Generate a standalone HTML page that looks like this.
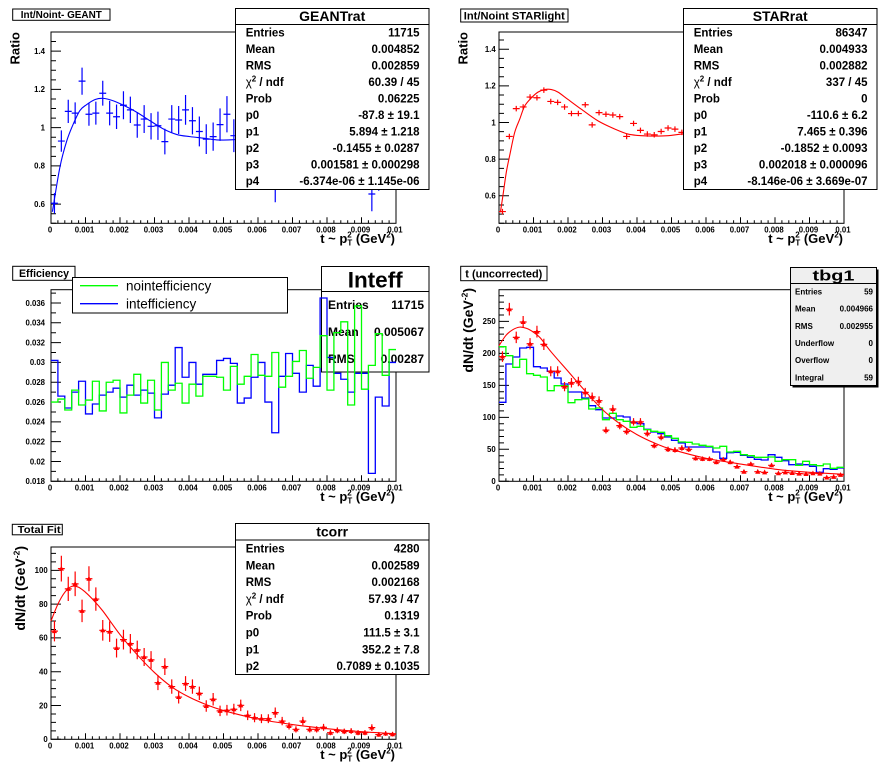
<!DOCTYPE html>
<html><head><meta charset="utf-8">
<style>
html,body{margin:0;padding:0;background:#fff;}
svg{display:block;}
text{font-family:"Liberation Sans",Arial,Helvetica,sans-serif;font-weight:bold;fill:#000;}
.t{font-size:7.8px;}
.n{font-weight:normal;}
</style></head><body>
<svg xmlns="http://www.w3.org/2000/svg" width="896" height="772" viewBox="0 0 896 772">
<rect width="896" height="772" fill="#fff"/>

<!-- ================= PAD 1 ================= -->
<rect x="12.7" y="9" width="97.3" height="11.3" fill="#fff" stroke="#000"/>
<text x="61.3" y="18.2" font-size="10" text-anchor="middle" textLength="81" lengthAdjust="spacingAndGlyphs">Int/Noint- GEANT</text>
<rect x="51" y="32" width="345" height="191.3" fill="none" stroke="#000"/>
<g id="a1"></g>
<g class="t" text-anchor="end">
<text x="45" y="207">0.6</text><text x="45" y="168.7">0.8</text><text x="45" y="130.5">1</text><text x="45" y="92.2">1.2</text><text x="45" y="53.9">1.4</text>
</g>
<g class="t" text-anchor="middle">
<text x="50" y="232.3">0</text><text x="84.5" y="232.3">0.001</text><text x="119" y="232.3">0.002</text><text x="153.5" y="232.3">0.003</text><text x="188" y="232.3">0.004</text><text x="222.5" y="232.3">0.005</text><text x="257" y="232.3">0.006</text><text x="291.5" y="232.3">0.007</text><text x="326" y="232.3">0.008</text><text x="360.5" y="232.3">0.009</text><text x="395" y="232.3">0.01</text>
</g>
<text x="395" y="242.8" text-anchor="end" font-size="13">t ~ p<tspan font-size="8" dy="-5.5">2</tspan><tspan font-size="8" dx="-4.4" dy="8">T</tspan><tspan dy="-2.5"> (GeV</tspan><tspan font-size="8" dy="-5.5">2</tspan><tspan dy="5.5">)</tspan></text>
<text transform="translate(19.3,32) rotate(-90)" text-anchor="end" font-size="13">Ratio</text>
<g id="d1"></g>
<rect x="235.5" y="8.5" width="193.5" height="181" fill="#fff" stroke="#000"/>
<line x1="235.5" y1="24.5" x2="429" y2="24.5" stroke="#000"/>
<text x="332.2" y="21.2" font-size="14" text-anchor="middle">GEANTrat</text>
<g font-size="11.5">
<text x="245.7" y="36.6">Entries</text><text x="419.5" y="36.6" text-anchor="end">11715</text>
<text x="245.7" y="53.1">Mean</text><text x="419.5" y="53.1" text-anchor="end">0.004852</text>
<text x="245.7" y="69.6">RMS</text><text x="419.5" y="69.6" text-anchor="end">0.002859</text>
<text x="245.7" y="86.1"><tspan class="n">χ</tspan><tspan font-size="8" dy="-4.5">2</tspan><tspan dy="4.5"> / ndf</tspan></text><text x="419.5" y="86.1" text-anchor="end">60.39 / 45</text>
<text x="245.7" y="102.6">Prob</text><text x="419.5" y="102.6" text-anchor="end">0.06225</text>
<text x="245.7" y="119.1">p0</text><text x="419.5" y="119.1" text-anchor="end">-87.8 ± 19.1</text>
<text x="245.7" y="135.6">p1</text><text x="419.5" y="135.6" text-anchor="end">5.894 ± 1.218</text>
<text x="245.7" y="152.1">p2</text><text x="419.5" y="152.1" text-anchor="end">-0.1455 ± 0.0287</text>
<text x="245.7" y="168.6">p3</text><text x="419.5" y="168.6" text-anchor="end">0.001581 ± 0.000298</text>
<text x="245.7" y="185.1">p4</text><text x="419.5" y="185.1" text-anchor="end">-6.374e-06 ± 1.145e-06</text>
</g>

<!-- ================= PAD 2 ================= -->
<rect x="460.7" y="9" width="107.3" height="13" fill="#fff" stroke="#000"/>
<text x="514.3" y="19.4" font-size="11" text-anchor="middle" textLength="101" lengthAdjust="spacingAndGlyphs">Int/Noint STARlight</text>
<rect x="499" y="32" width="345" height="191.3" fill="none" stroke="#000"/>
<g id="a2"></g>
<g class="t" text-anchor="end">
<text x="495.7" y="198.6">0.6</text><text x="495.7" y="162">0.8</text><text x="495.7" y="125.3">1</text><text x="495.7" y="88.7">1.2</text><text x="495.7" y="52">1.4</text>
</g>
<g class="t" text-anchor="middle">
<text x="498" y="232.3">0</text><text x="532.5" y="232.3">0.001</text><text x="567" y="232.3">0.002</text><text x="601.5" y="232.3">0.003</text><text x="636" y="232.3">0.004</text><text x="670.5" y="232.3">0.005</text><text x="705" y="232.3">0.006</text><text x="739.5" y="232.3">0.007</text><text x="774" y="232.3">0.008</text><text x="808.5" y="232.3">0.009</text><text x="843" y="232.3">0.01</text>
</g>
<text x="843" y="242.8" text-anchor="end" font-size="13">t ~ p<tspan font-size="8" dy="-5.5">2</tspan><tspan font-size="8" dx="-4.4" dy="8">T</tspan><tspan dy="-2.5"> (GeV</tspan><tspan font-size="8" dy="-5.5">2</tspan><tspan dy="5.5">)</tspan></text>
<text transform="translate(467.3,32) rotate(-90)" text-anchor="end" font-size="13">Ratio</text>
<g id="d2"></g>
<rect x="683.5" y="8.5" width="193.5" height="181" fill="#fff" stroke="#000"/>
<line x1="683.5" y1="24.5" x2="877" y2="24.5" stroke="#000"/>
<text x="780.2" y="21.2" font-size="14" text-anchor="middle">STARrat</text>
<g font-size="11.5">
<text x="693.7" y="36.6">Entries</text><text x="867.5" y="36.6" text-anchor="end">86347</text>
<text x="693.7" y="53.1">Mean</text><text x="867.5" y="53.1" text-anchor="end">0.004933</text>
<text x="693.7" y="69.6">RMS</text><text x="867.5" y="69.6" text-anchor="end">0.002882</text>
<text x="693.7" y="86.1"><tspan class="n">χ</tspan><tspan font-size="8" dy="-4.5">2</tspan><tspan dy="4.5"> / ndf</tspan></text><text x="867.5" y="86.1" text-anchor="end">337 / 45</text>
<text x="693.7" y="102.6">Prob</text><text x="867.5" y="102.6" text-anchor="end">0</text>
<text x="693.7" y="119.1">p0</text><text x="867.5" y="119.1" text-anchor="end">-110.6 ± 6.2</text>
<text x="693.7" y="135.6">p1</text><text x="867.5" y="135.6" text-anchor="end">7.465 ± 0.396</text>
<text x="693.7" y="152.1">p2</text><text x="867.5" y="152.1" text-anchor="end">-0.1852 ± 0.0093</text>
<text x="693.7" y="168.6">p3</text><text x="867.5" y="168.6" text-anchor="end">0.002018 ± 0.000096</text>
<text x="693.7" y="185.1">p4</text><text x="867.5" y="185.1" text-anchor="end">-8.146e-06 ± 3.669e-07</text>
</g>

<!-- ================= PAD 3 ================= -->
<rect x="12.7" y="266.3" width="62.3" height="14" fill="#fff" stroke="#000"/>
<text x="44" y="277" font-size="10.6" text-anchor="middle" textLength="50" lengthAdjust="spacingAndGlyphs">Efficiency</text>
<rect x="51" y="289.7" width="345" height="191.6" fill="none" stroke="#000"/>
<g id="a3"></g>
<g class="t" text-anchor="end">
<text x="45" y="484.1">0.018</text><text x="45" y="464.3">0.02</text><text x="45" y="444.5">0.022</text><text x="45" y="424.7">0.024</text><text x="45" y="404.9">0.026</text><text x="45" y="385">0.028</text><text x="45" y="365.2">0.03</text><text x="45" y="345.4">0.032</text><text x="45" y="325.6">0.034</text><text x="45" y="305.8">0.036</text>
</g>
<g class="t" text-anchor="middle">
<text x="50" y="490.3">0</text><text x="84.5" y="490.3">0.001</text><text x="119" y="490.3">0.002</text><text x="153.5" y="490.3">0.003</text><text x="188" y="490.3">0.004</text><text x="222.5" y="490.3">0.005</text><text x="257" y="490.3">0.006</text><text x="291.5" y="490.3">0.007</text><text x="326" y="490.3">0.008</text><text x="360.5" y="490.3">0.009</text><text x="395" y="490.3">0.01</text>
</g>
<text x="395" y="500.8" text-anchor="end" font-size="13">t ~ p<tspan font-size="8" dy="-5.5">2</tspan><tspan font-size="8" dx="-4.4" dy="8">T</tspan><tspan dy="-2.5"> (GeV</tspan><tspan font-size="8" dy="-5.5">2</tspan><tspan dy="5.5">)</tspan></text>
<rect x="321.5" y="266.5" width="107.5" height="105.5" fill="#fff" stroke="#000"/>
<line x1="321.5" y1="291.5" x2="429" y2="291.5" stroke="#000"/>
<text x="375.2" y="287.3" font-size="22.5" text-anchor="middle">Inteff</text>
<g font-size="12">
<text x="328" y="309">Entries</text><text x="424" y="309" text-anchor="end">11715</text>
<text x="328" y="336">Mean</text><text x="424" y="336" text-anchor="end">0.005067</text>
<text x="328" y="362.8">RMS</text><text x="424" y="362.8" text-anchor="end">0.00287</text>
</g>
<g id="d3"></g>
<rect x="72.5" y="277.5" width="215" height="35.5" fill="#fff" stroke="#000"/>
<line x1="80" y1="285.7" x2="118" y2="285.7" stroke="#00ff00" stroke-width="1.3"/>
<line x1="80" y1="303.7" x2="118" y2="303.7" stroke="#0000ff" stroke-width="1.3"/>
<text x="126" y="290.5" font-size="13.5" class="n">nointefficiency</text>
<text x="126" y="308.5" font-size="13.5" class="n">intefficiency</text>

<!-- ================= PAD 4 ================= -->
<rect x="460.7" y="266.3" width="86.3" height="14.4" fill="#fff" stroke="#000"/>
<text x="503.8" y="277.6" font-size="11" text-anchor="middle" textLength="77" lengthAdjust="spacingAndGlyphs">t (uncorrected)</text>
<rect x="499" y="289.7" width="345" height="191.6" fill="none" stroke="#000"/>
<g id="a4"></g>
<g class="t" text-anchor="end">
<text x="495.7" y="484.1">0</text><text x="495.7" y="452.1">50</text><text x="495.7" y="420.1">100</text><text x="495.7" y="388.1">150</text><text x="495.7" y="356.1">200</text><text x="495.7" y="324.1">250</text>
</g>
<g class="t" text-anchor="middle">
<text x="498" y="490.3">0</text><text x="532.5" y="490.3">0.001</text><text x="567" y="490.3">0.002</text><text x="601.5" y="490.3">0.003</text><text x="636" y="490.3">0.004</text><text x="670.5" y="490.3">0.005</text><text x="705" y="490.3">0.006</text><text x="739.5" y="490.3">0.007</text><text x="774" y="490.3">0.008</text><text x="808.5" y="490.3">0.009</text><text x="843" y="490.3">0.01</text>
</g>
<text x="843" y="500.8" text-anchor="end" font-size="13">t ~ p<tspan font-size="8" dy="-5.5">2</tspan><tspan font-size="8" dx="-4.4" dy="8">T</tspan><tspan dy="-2.5"> (GeV</tspan><tspan font-size="8" dy="-5.5">2</tspan><tspan dy="5.5">)</tspan></text>
<text transform="translate(473,288) rotate(-90)" text-anchor="end" font-size="14">dN/dt (GeV<tspan font-size="8.5" dy="-5.5">-2</tspan><tspan dy="5.5">)</tspan></text>
<g id="d4"></g>
<rect x="792.5" y="269.5" width="86" height="118" fill="#000"/>
<rect x="790.5" y="267.5" width="86" height="118" fill="#efefef" stroke="#000"/>
<line x1="790.5" y1="283.5" x2="876.5" y2="283.5" stroke="#000"/>
<text x="833.5" y="280.6" font-size="15" text-anchor="middle" textLength="42" lengthAdjust="spacingAndGlyphs">tbg1</text>
<g font-size="8">
<text x="795" y="294.5">Entries</text><text x="873" y="294.5" text-anchor="end">59</text>
<text x="795" y="311.7">Mean</text><text x="873" y="311.7" text-anchor="end">0.004966</text>
<text x="795" y="328.8">RMS</text><text x="873" y="328.8" text-anchor="end">0.002955</text>
<text x="795" y="346">Underflow</text><text x="873" y="346" text-anchor="end">0</text>
<text x="795" y="363.2">Overflow</text><text x="873" y="363.2" text-anchor="end">0</text>
<text x="795" y="380.3">Integral</text><text x="873" y="380.3" text-anchor="end">59</text>
</g>

<!-- ================= PAD 5 ================= -->
<rect x="12.3" y="524.3" width="50" height="10.5" fill="#fff" stroke="#000"/>
<text x="39.2" y="532.8" font-size="10" text-anchor="middle" textLength="43" lengthAdjust="spacingAndGlyphs">Total Fit</text>
<rect x="51" y="547" width="345" height="192.3" fill="none" stroke="#000"/>
<g id="a5"></g>
<g class="t" text-anchor="end">
<text x="47.7" y="742.1">0</text><text x="47.7" y="708.3">20</text><text x="47.7" y="674.5">40</text><text x="47.7" y="640.7">60</text><text x="47.7" y="606.9">80</text><text x="47.7" y="573.1">100</text>
</g>
<g class="t" text-anchor="middle">
<text x="50" y="748.3">0</text><text x="84.5" y="748.3">0.001</text><text x="119" y="748.3">0.002</text><text x="153.5" y="748.3">0.003</text><text x="188" y="748.3">0.004</text><text x="222.5" y="748.3">0.005</text><text x="257" y="748.3">0.006</text><text x="291.5" y="748.3">0.007</text><text x="326" y="748.3">0.008</text><text x="360.5" y="748.3">0.009</text><text x="395" y="748.3">0.01</text>
</g>
<text x="395" y="758.8" text-anchor="end" font-size="13">t ~ p<tspan font-size="8" dy="-5.5">2</tspan><tspan font-size="8" dx="-4.4" dy="8">T</tspan><tspan dy="-2.5"> (GeV</tspan><tspan font-size="8" dy="-5.5">2</tspan><tspan dy="5.5">)</tspan></text>
<text transform="translate(25,546) rotate(-90)" text-anchor="end" font-size="14">dN/dt (GeV<tspan font-size="8.5" dy="-5.5">-2</tspan><tspan dy="5.5">)</tspan></text>
<g id="d5"></g>
<rect x="235.5" y="523.5" width="193.5" height="151" fill="#fff" stroke="#000"/>
<line x1="235.5" y1="540" x2="429" y2="540" stroke="#000"/>
<text x="332.2" y="536.6" font-size="14" text-anchor="middle">tcorr</text>
<g font-size="11.5">
<text x="245.7" y="552.5">Entries</text><text x="419.5" y="552.5" text-anchor="end">4280</text>
<text x="245.7" y="569.3">Mean</text><text x="419.5" y="569.3" text-anchor="end">0.002589</text>
<text x="245.7" y="586.1">RMS</text><text x="419.5" y="586.1" text-anchor="end">0.002168</text>
<text x="245.7" y="602.9"><tspan class="n">χ</tspan><tspan font-size="8" dy="-4.5">2</tspan><tspan dy="4.5"> / ndf</tspan></text><text x="419.5" y="602.9" text-anchor="end">57.93 / 47</text>
<text x="245.7" y="619.7">Prob</text><text x="419.5" y="619.7" text-anchor="end">0.1319</text>
<text x="245.7" y="636.5">p0</text><text x="419.5" y="636.5" text-anchor="end">111.5 ± 3.1</text>
<text x="245.7" y="653.3">p1</text><text x="419.5" y="653.3" text-anchor="end">352.2 ± 7.8</text>
<text x="245.7" y="670.1">p2</text><text x="419.5" y="670.1" text-anchor="end">0.7089 ± 0.1035</text>
</g>
</svg>

<script>
(function(){
var NS="http://www.w3.org/2000/svg";
function add(id,tag,a){var g=document.getElementById(id);var e=document.createElementNS(NS,tag);for(var k in a)e.setAttribute(k,a[k]);g.appendChild(e);return e;}
var P={
p1:{x0:51,x1:396,y0:32,y1:223.3,ymin:0.5,ymax:1.5},
p2:{x0:499,x1:844,y0:32,y1:223.3,ymin:0.45,ymax:1.494},
p3:{x0:51,x1:396,y0:289.7,y1:481.3,ymin:0.018,ymax:0.03734},
p4:{x0:499,x1:844,y0:289.7,y1:481.3,ymin:0,ymax:299.5},
p5:{x0:51,x1:396,y0:547,y1:739.3,ymin:0,ymax:113.8}
};
function X(p,t){return p.x0+t/0.01*(p.x1-p.x0);}
function Y(p,v){return p.y1-(v-p.ymin)/(p.ymax-p.ymin)*(p.y1-p.y0);}
function f(n){return n.toFixed(2);}
function ticks(id,p,maj,mn,start){
 var d="";
 for(var i=0;i<=50;i++){var x=f(X(p,i*0.0002));var L=(i%5==0)?6:3;d+="M"+x+" "+p.y1+"V"+f(p.y1-L);}
 for(var k=0;k<2000;k++){var v=start+k*mn;if(v>p.ymax+1e-9)break;if(v<p.ymin-1e-9)continue;var r=v/maj;var L2=Math.abs(r-Math.round(r))<1e-6?10:5;var y=f(Y(p,v));d+="M"+p.x0+" "+y+"H"+(p.x0+L2);}
 add(id,"path",{d:d,stroke:"#000","stroke-width":1,fill:"none"});
}
ticks("a1",P.p1,0.2,0.05,0.5);
ticks("a2",P.p2,0.2,0.05,0.45);
ticks("a3",P.p3,0.002,0.001,0.018);
ticks("a4",P.p4,50,10,0);
ticks("a5",P.p5,20,5,0);

function histY(id,p,ys,color){
 var n=ys.length,w=(p.x1-p.x0)/n;var d="M"+p.x0+" "+f(ys[0]);
 for(var i=0;i<n;i++){if(i>0)d+="V"+f(ys[i]);d+="H"+f(p.x0+(i+1)*w);}
 add(id,"path",{d:d,stroke:color,"stroke-width":1.3,fill:"none"});
}
function pts(id,p,vals,errs,color,marker){
 var n=vals.length,w=(p.x1-p.x0)/n,d="",m="";
 for(var i=0;i<n;i++){var v=vals[i],e=errs[i];var xc=p.x0+(i+0.5)*w,yc=Y(p,v);
  d+="M"+f(xc-w/2)+" "+f(yc)+"H"+f(xc+w/2)+"M"+f(xc)+" "+f(Y(p,v+e))+"V"+f(Y(p,v-e));
  if(marker)m+="M"+f(xc-2.6)+" "+f(yc+2)+"L"+f(xc+2.6)+" "+f(yc+2)+"L"+f(xc)+" "+f(yc-2.8)+"Z";}
 add(id,"path",{d:d,stroke:color,"stroke-width":1.2,fill:"none"});
 if(marker)add(id,"path",{d:m,fill:color,stroke:"none"});
}
function curve(id,p,c,color){
 var q=c.map(function(a){return [X(p,a[0]),Y(p,a[1])];});
 var d="M"+f(q[0][0])+" "+f(q[0][1]);
 for(var i=0;i<q.length-1;i++){
  var p0=q[i>0?i-1:0],p1=q[i],p2=q[i+1],p3=q[i+2<q.length?i+2:i+1];
  var c1x=p1[0]+(p2[0]-p0[0])/6,c1y=p1[1]+(p2[1]-p0[1])/6;
  var c2x=p2[0]-(p3[0]-p1[0])/6,c2y=p2[1]-(p3[1]-p1[1])/6;
  d+="C"+f(c1x)+" "+f(c1y)+" "+f(c2x)+" "+f(c2y)+" "+f(p2[0])+" "+f(p2[1]);
 }
 add(id,"path",{d:d,stroke:color,"stroke-width":1.1,fill:"none"});
}

/* Pad 1 */
var v1=[0.605,0.93,1.085,1.076,1.243,1.07,1.076,1.18,1.076,1.057,1.117,1.093,1.014,1.045,1.007,1.01,0.927,1.045,1.04,1.093,1.036,0.98,0.94,0.953,1.016,1.07,0.958,
0.95,1.0,0.97,1.02,0.9,0.76,0.98,1.05,0.93,1.0,0.97,1.03,0.95,1.0,0.98,1.06,0.92,1.0,0.97,0.653,0.87,1.0,0.95];
var e1=[0.053,0.056,0.061,0.056,0.071,0.06,0.06,0.065,0.064,0.064,0.073,0.069,0.067,0.073,0.069,0.074,0.067,0.073,0.073,0.078,0.071,0.078,0.078,0.074,0.085,0.095,0.086];
for(var i=27;i<50;i++)e1[i]=0.08;e1[32]=0.15;e1[46]=0.09;e1[47]=0.2;
pts("d1",P.p1,v1,e1,"#0000ff",false);
curve("d1",P.p1,[[0.00004,0.56],[0.00026,0.795],[0.000455,0.93],[0.000648,1.02],[0.00084,1.09],[0.00103,1.12],[0.00128,1.147],[0.00152,1.153],[0.00181,1.14],[0.0021,1.117],[0.00249,1.08],[0.00287,1.036],[0.00326,0.993],[0.00365,0.964],[0.00403,0.953],[0.00442,0.945],[0.00481,0.936],[0.00529,0.937],[0.006,0.95],[0.007,0.97],[0.008,0.99],[0.009,1.0],[0.01,0.98]],"#0000ff");

/* Pad 2 */
var v2=[0.514,0.924,1.076,1.085,1.139,1.135,1.177,1.115,1.11,1.085,1.049,1.049,1.097,0.987,1.054,1.045,1.041,1.032,0.924,0.995,0.957,0.937,0.933,0.951,0.97,0.964,0.946];
for(var i=27;i<50;i++)v2[i]=0.95+0.03*Math.sin(i);
var e2=[];for(var i=0;i<50;i++)e2[i]=0.015;
pts("d2",P.p2,v2,e2,"#ff0000",false);
curve("d2",P.p2,[[0.00004,0.51],[0.000116,0.604],[0.000213,0.73],[0.00031,0.82],[0.000455,0.946],[0.0006,1.018],[0.000745,1.09],[0.00094,1.135],[0.00113,1.166],[0.00132,1.18],[0.00152,1.18],[0.00171,1.166],[0.002,1.126],[0.00239,1.072],[0.00287,1.009],[0.00336,0.964],[0.00374,0.937],[0.00413,0.928],[0.00452,0.926],[0.0049,0.928],[0.00529,0.937],[0.006,0.95],[0.007,0.97],[0.008,0.98],[0.009,0.97],[0.01,0.95]],"#ff0000");

/* Pad 3 */
var b3=[0.0302,0.0266,0.0254,0.0270,0.0281,0.0248,0.0258,0.0267,0.0270,0.0274,0.0265,0.0277,0.0267,0.0272,0.0269,0.0244,0.0268,0.0277,0.0315,0.0285,0.0300,0.0278,0.0288,0.0288,0.0302,0.0304,0.0299,0.0259,0.0264,0.0285,0.0300,0.0260,0.0229,0.0286,0.0309,0.0289,0.0270,0.0297,0.0276,0.0365,0.0305,0.0289,0.0283,0.0270,0.0289,0.0289,0.0188,0.0265,0.0256,0.0300];
var g3=[0.0260,0.0263,0.0252,0.0272,0.0257,0.0262,0.0281,0.0251,0.0280,0.0282,0.0249,0.0267,0.0288,0.0259,0.0282,0.0252,0.0300,0.0272,0.0279,0.0259,0.0278,0.0266,0.0286,0.0286,0.0285,0.0272,0.0296,0.0278,0.0286,0.0308,0.0287,0.0286,0.0310,0.0275,0.0286,0.0301,0.0312,0.0284,0.0295,0.0327,0.0272,0.0330,0.0341,0.0257,0.0357,0.0273,0.0297,0.0329,0.0287,0.0313];
histY("d3",P.p3,b3.map(function(v){return Y(P.p3,v);}),"#0000ff");
histY("d3",P.p3,g3.map(function(v){return Y(P.p3,v);}),"#00ff00");

/* Pad 4 */
var bz=[433,318,297,270,268,326,330,340,360,378,402,402,420,443,455,480,480,474,477,493,497,514,522,527,537,547,555,567,567,567,567,582,601,584,583,592,598,604,606,590,598,608,620,618,620,625,643,632,634,630];
var gz=[266,293,328,304,347,352,357,398,383,383,434,425,423,453,450,485,466,485,490,508,505,515,520,523,533,541,552,553,558,562,565,570,565,582,580,590,593,598,598,597,610,605,605,622,610,620,623,618,631,628];
histY("d4",P.p4,bz.map(function(z){return 258+z/3;}),"#0000ff");
histY("d4",P.p4,gz.map(function(z){return 258+z/3;}),"#00ff00");
var r4=[195,269,225,249,215,234,214,172,172,148,154,156,139,132,126,80,113,87,78,93,93,75,56,69,50,49,52,50,36,35,35,30,34,30,23,15,27,15,14,25,12.5,14,13,12,11.5,12.5,12,6,7,10];
pts("d4",P.p4,r4,r4.map(function(v){return 0.6*Math.sqrt(v);}),"#ff0000",true);
curve("d4",P.p4,[[0,212],[0.0002,228],[0.0004,237],[0.0006,241],[0.0008,239],[0.001,233],[0.0012,224],[0.0015,203],[0.002,172],[0.0025,141],[0.003,112],[0.0035,90],[0.004,73],[0.0045,60],[0.005,50],[0.006,36],[0.007,27],[0.008,19],[0.009,14],[0.01,11]],"#ff0000");

/* Pad 5 */
var r5=[64,101,89,92,76,95,83,64.5,63.7,54,59,56.6,52.9,48.7,47,33.5,43,31.2,25,33,31.2,27.2,19.7,23.7,16.8,17.2,17.8,20.1,14.2,12.8,12.2,12.2,15.8,10.8,7.9,5.9,10.8,5.9,5.9,7.1,3.9,5.3,4.7,4.9,3.9,3.9,6.9,2.8,3.4,3];
pts("d5",P.p5,r5,r5.map(function(v){return 0.76*Math.sqrt(v);}),"#ff0000",true);
curve("d5",P.p5,[[0,70],[0.0002,80],[0.0004,87],[0.0006,90.5],[0.0008,90],[0.001,87],[0.0012,83],[0.0015,76],[0.002,62],[0.0025,50],[0.003,39.5],[0.0035,31],[0.004,25],[0.0045,20.5],[0.005,17],[0.006,12],[0.007,8.7],[0.008,6.3],[0.009,4.5],[0.01,3.3]],"#ff0000");
})();
</script>
</body></html>
